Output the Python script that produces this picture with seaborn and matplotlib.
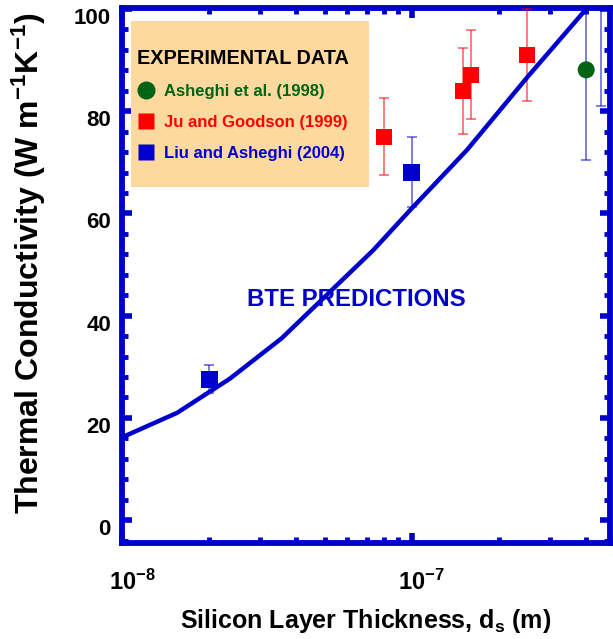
import matplotlib
matplotlib.use("Agg")
import numpy as np
import pandas as pd
import seaborn as sns
import matplotlib.pyplot as plt
from matplotlib.ticker import LogLocator, MultipleLocator, NullFormatter, FixedLocator
from matplotlib.lines import Line2D
from matplotlib.patches import Rectangle
from matplotlib.transforms import ScaledTranslation

# ---- data ----
bte_thickness = [1.0e-8, 1.55e-8, 2.36e-8, 3.56e-8, 7.36e-8, 1.0e-7, 1.55e-7, 2.5e-7, 4.0e-7]
bte_k = [16.2, 21.0, 27.7, 35.6, 52.8, 61.0, 72.4, 86.6, 100.0]

ju_thickness = [8.0e-8, 1.5e-7, 1.6e-7, 2.5e-7]
ju_k = [75.0, 84.0, 87.1, 91.0]
ju_err = [7.5, 8.4, 8.7, 9.0]

liu_thickness = [2.0e-8, 1.0e-7, 4.5e-7]
liu_k = [27.6, 68.1, 106.0]
liu_err = [2.7, 6.8, 25.0]

ash_thickness = [4.0e-7]
ash_k = [88.1]
ash_err = [17.6]

legend_labels = ["Asheghi et al. (1998)", "Ju and Goodson (1999)", "Liu and Asheghi (2004)"]
y_ticks = [0, 20, 40, 60, 80, 100]

BLUE = "#0000CC"
RED = "#FF0000"
GREEN = "#006414"
PEACH = "#FDD9A0"

sns.set_theme(style="white")
plt.rcParams['font.family'] = ['Liberation Sans', 'DejaVu Sans']
plt.rcParams.update({
    'font.weight': 'bold',
    'text.color': 'black',
    'axes.labelcolor': 'black',
    'xtick.labelcolor': 'black',
    'ytick.labelcolor': 'black',
    'mathtext.fontset': 'custom',
    'mathtext.rm': 'Liberation Sans',
    'mathtext.bf': 'Liberation Sans:bold',
    'mathtext.default': 'bf',
})

fig = plt.figure(figsize=(6.13, 6.39), dpi=100)
ax = fig.add_axes([0.199, 0.150, 0.796, 0.8375])

bte = pd.DataFrame({"d": bte_thickness, "k": bte_k})
sns.lineplot(data=bte, x="d", y="k", ax=ax, color=BLUE, lw=3.2, zorder=4, legend=False)

ax.errorbar(ju_thickness, ju_k, yerr=ju_err, fmt="none", ecolor=RED, alpha=0.55,
            elinewidth=1.3, capsize=3.5, capthick=1.3, zorder=3)
ax.errorbar(liu_thickness, liu_k, yerr=liu_err, fmt="none", ecolor=BLUE, alpha=0.55,
            elinewidth=1.3, capsize=3.5, capthick=1.3, zorder=3)
ax.errorbar(ash_thickness, ash_k, yerr=ash_err, fmt="none", ecolor=BLUE, alpha=0.55,
            elinewidth=1.3, capsize=3.5, capthick=1.3, zorder=3)

ju = pd.DataFrame({"d": ju_thickness, "k": ju_k})
liu = pd.DataFrame({"d": liu_thickness, "k": liu_k})
ash = pd.DataFrame({"d": ash_thickness, "k": ash_k})
sns.scatterplot(data=ju, x="d", y="k", ax=ax, marker="s", s=130, color=RED, edgecolor="none", zorder=5)
sns.scatterplot(data=liu, x="d", y="k", ax=ax, marker="s", s=150, color=BLUE, edgecolor="none", zorder=5)
sns.scatterplot(data=ash, x="d", y="k", ax=ax, marker="o", s=150, color=GREEN, edgecolor="none", zorder=5)

ax.set_xscale("log")
ax.set_xlim(1e-8, 4.83e-7)
ax.set_ylim(-4.5, 100.2)

ax.xaxis.set_major_locator(FixedLocator([1e-8, 1e-7]))
ax.xaxis.set_minor_locator(LogLocator(base=10, subs=np.arange(2, 10)))
ax.xaxis.set_minor_formatter(NullFormatter())
ax.yaxis.set_major_locator(FixedLocator(y_ticks))
ax.yaxis.set_minor_locator(MultipleLocator(4))

for s in ax.spines.values():
    s.set_color(BLUE)
    s.set_linewidth(4.2)
ax.tick_params(which="both", direction="in", color=BLUE, labelcolor="black", top=True,
               right=True, bottom=True, left=True)
ax.tick_params(which="major", length=7, width=4)
ax.tick_params(which="minor", length=4.5, width=3.5)
ax.tick_params(axis="y", which="major", labelsize=16, pad=8)
ax.tick_params(axis="x", which="major", labelsize=17, pad=19)
for lab in ax.get_yticklabels():
    lab.set_fontweight("bold")
for lab in ax.get_xticklabels():
    lab.set_fontweight("bold")

ax.set_xlabel("Silicon Layer Thickness, d$_\\mathbf{s}$ (m)", fontsize=18, fontweight="bold",
              labelpad=9, color="black")
ax.set_ylabel("Thermal Conductivity (W m$^{-1}$K$^{-1}$)", fontsize=23, fontweight="bold",
              color="black")
ax.yaxis.set_label_coords(-0.152, 0.523)

ax.text(0.48, 0.455, "BTE PREDICTIONS", transform=ax.transAxes, color=BLUE,
        fontsize=17.3, fontweight="bold", ha="center", va="center", zorder=6)

# legend box
ax.add_patch(Rectangle((0.0184, 0.6654), 0.4877, 0.3103, transform=ax.transAxes,
                       facecolor=PEACH, edgecolor="none", zorder=1))
handles = [
    Line2D([], [], ls="none", marker="o", ms=13, color=GREEN, mec="none"),
    Line2D([], [], ls="none", marker="s", ms=11, color=RED, mec="none"),
    Line2D([], [], ls="none", marker="s", ms=11, color=BLUE, mec="none"),
]
leg = ax.legend(handles, legend_labels, loc="upper left", bbox_to_anchor=(0.018, 0.935),
                frameon=False, title="EXPERIMENTAL DATA", alignment="left",
                prop={"size": 12, "weight": "bold"}, labelspacing=0.95,
                handlelength=1.0, handletextpad=0.6, borderaxespad=0)
leg.get_title().set_fontsize(14.3)
leg.get_title().set_fontweight("bold")
leg.get_title().set_color("black")
for t, c in zip(leg.get_texts(), [GREEN, RED, BLUE]):
    t.set_color(c)
leg.set_zorder(7)

fig.canvas.draw()
for lab in ax.get_yticklabels():
    lab.set_transform(lab.get_transform() + ScaledTranslation(0, -0.07, fig.dpi_scale_trans))
for lab in ax.get_xticklabels():
    lab.set_transform(lab.get_transform() + ScaledTranslation(0.1, 0, fig.dpi_scale_trans))

fig.savefig("out.png", dpi=100)
